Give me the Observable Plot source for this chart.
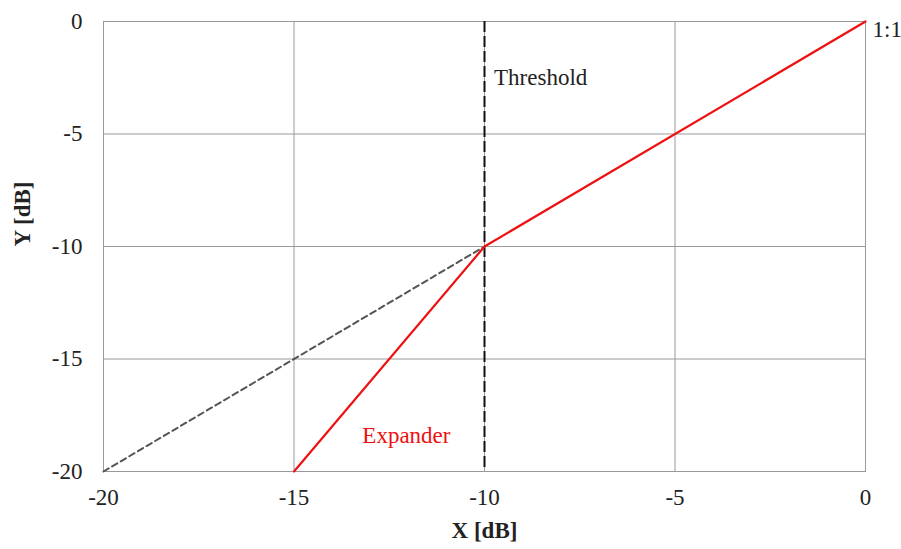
<!DOCTYPE html>
<html>
<head>
<meta charset="utf-8">
<script src="https://cdn.jsdelivr.net/npm/d3@7"></script>
<script src="https://cdn.jsdelivr.net/npm/@observablehq/plot@0.6"></script>
<style>
  html, body { margin: 0; padding: 0; background: #fff; }
  svg text { font-family: 'Liberation Serif', serif; }
</style>
</head>
<body>
<div id="chart"></div>
<script>
const xTicks = [-20, -15, -10, -5, 0];
const yTicks = [-20, -15, -10, -5, 0];
const expanderX = [-15, -10, 0];
const expanderY = [-20, -10, 0];
const unityX = [-20, -10];
const unityY = [-20, -10];
const thresholdX = -10;
const thresholdLabel = [{x: -9.75, y: -2.5, text: "Threshold"}];
const expanderLabel = [{x: -12.05, y: -18.4, text: "Expander"}];

const expander = expanderX.map((x, i) => ({x, y: expanderY[i]}));
const unity = unityX.map((x, i) => ({x, y: unityY[i]}));
const serif = "'Liberation Serif', serif";

const chart = Plot.plot({
  width: 901,
  height: 549,
  marginLeft: 103,
  marginRight: 36,
  marginTop: 21,
  marginBottom: 78,
  style: {fontFamily: serif, fontSize: "23px", background: "#fff", color: "#222"},
  x: {domain: [-20, 0], label: null},
  y: {domain: [-20, 0], label: null},
  marks: [
    Plot.gridX(xTicks, {stroke: "#999", strokeOpacity: 1, strokeWidth: 1}),
    Plot.gridY(yTicks, {stroke: "#999", strokeOpacity: 1, strokeWidth: 1}),
    Plot.frame({stroke: "#999", strokeWidth: 1}),
    Plot.axisX(xTicks, {tickSize: 0, tickPadding: 17, tickFormat: d => String(d), fontSize: 23, fontFamily: serif, label: null}),
    Plot.axisY(yTicks, {tickSize: 0, tickPadding: 21, tickFormat: d => String(d), fontSize: 23, fontFamily: serif, label: null}),
    Plot.line(unity, {x: "x", y: "y", stroke: "#555", strokeWidth: 2, strokeDasharray: "6,4"}),
    Plot.ruleX([thresholdX], {stroke: "#111", strokeWidth: 2, strokeDasharray: "11,4"}),
    Plot.line(expander, {x: "x", y: "y", stroke: "#ee1111", strokeWidth: 2.2}),
    Plot.text(thresholdLabel, {x: "x", y: "y", text: "text", fill: "#222", textAnchor: "start", fontSize: 23, fontFamily: serif}),
    Plot.text(expanderLabel, {x: "x", y: "y", text: "text", fill: "#ee1111", textAnchor: "middle", fontSize: 23, fontFamily: serif}),
    Plot.text(["1:1"], {x: 0, y: 0, dx: 7, dy: 8, textAnchor: "start", fontSize: 23, fill: "#222", fontFamily: serif}),
    Plot.text(["X [dB]"], {frameAnchor: "bottom", dy: 66, fontWeight: "bold", fontSize: 23, fill: "#222", fontFamily: serif}),
    Plot.text(["Y [dB]"], {frameAnchor: "left", dx: -81, rotate: -90, fontWeight: "bold", fontSize: 23, fill: "#222", fontFamily: serif})
  ]
});
document.getElementById("chart").appendChild(chart);
</script>
</body>
</html>
